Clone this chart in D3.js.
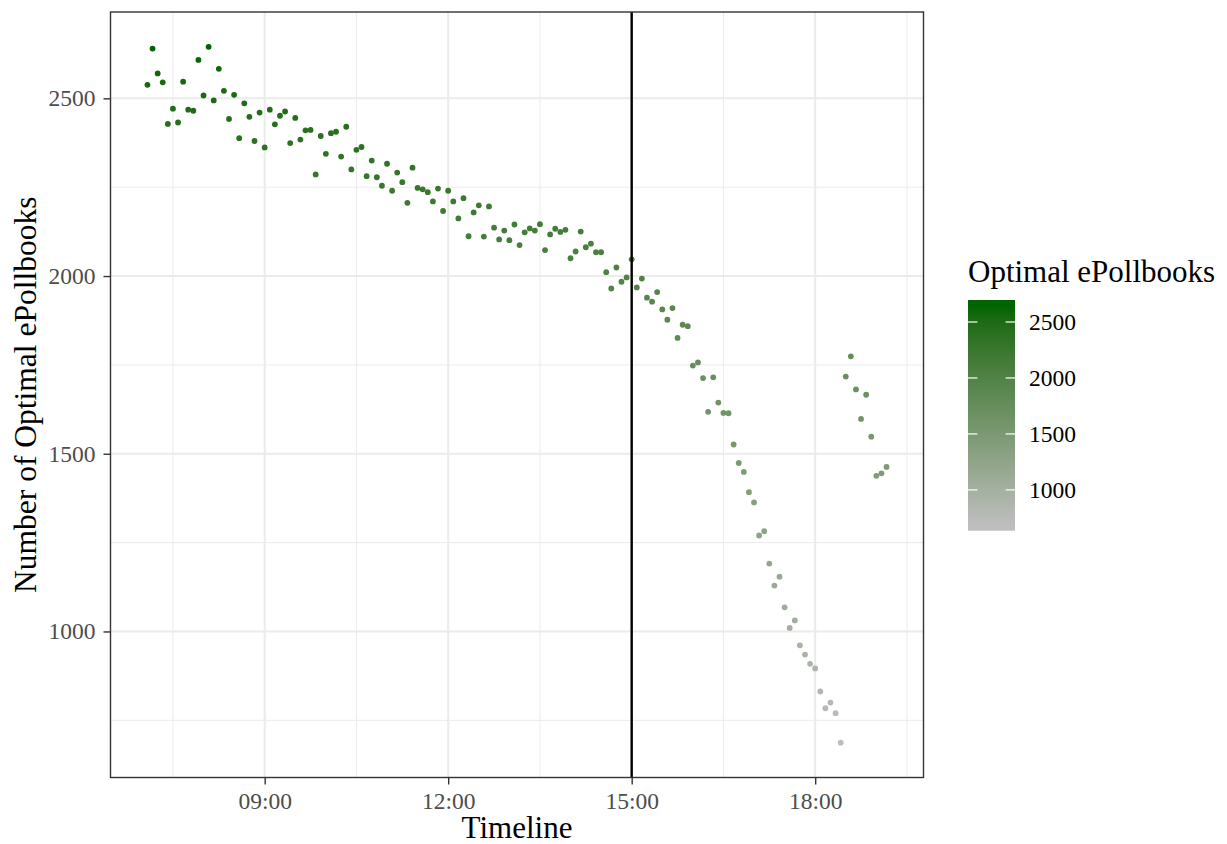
<!DOCTYPE html>
<html>
<head>
<meta charset="utf-8">
<script src="https://cdn.jsdelivr.net/npm/d3@7"></script>
<style>
  html, body { margin: 0; padding: 0; background: #ffffff; }
  svg { display: block; }
</style>
</head>
<body>
<svg id="chart" width="1227" height="844"></svg>
<script>
// ---------------- DATA ----------------
const times = [
  "07:05","07:10","07:15","07:20","07:25","07:30","07:35","07:40","07:45","07:50","07:55",
  "08:00","08:05","08:10","08:15","08:20","08:25","08:30","08:35","08:40","08:45","08:50","08:55",
  "09:00","09:05","09:10","09:15","09:20","09:25","09:30","09:35","09:40","09:45","09:50","09:55",
  "10:00","10:05","10:10","10:15","10:20","10:25","10:30","10:35","10:40","10:45","10:50","10:55",
  "11:00","11:05","11:10","11:15","11:20","11:25","11:30","11:35","11:40","11:45","11:50","11:55",
  "12:00","12:05","12:10","12:15","12:20","12:25","12:30","12:35","12:40","12:45","12:50","12:55",
  "13:00","13:05","13:10","13:15","13:20","13:25","13:30","13:35","13:40","13:45","13:50","13:55",
  "14:00","14:05","14:10","14:15","14:20","14:25","14:30","14:35","14:40","14:45","14:50","14:55",
  "15:00","15:05","15:10","15:15","15:20","15:25","15:30","15:35","15:40","15:45","15:50","15:55",
  "16:00","16:05","16:10","16:15","16:20","16:25","16:30","16:35","16:40","16:45","16:50","16:55",
  "17:00","17:05","17:10","17:15","17:20","17:25","17:30","17:35","17:40","17:45","17:50","17:55",
  "18:00","18:05","18:10","18:15","18:20","18:25","18:30","18:35","18:40","18:45","18:50","18:55",
  "19:00","19:05","19:10"
];
const optimal = [
  2538,2640,2570,2545,2428,2471,2432,2547,2468,2465,2608,
  2508,2645,2494,2583,2521,2442,2510,2388,2486,2448,2380,2460,
  2362,2468,2427,2451,2463,2374,2445,2384,2410,2411,2286,2394,
  2344,2402,2406,2336,2420,2300,2355,2363,2281,2325,2278,2254,
  2316,2240,2291,2264,2206,2305,2248,2244,2236,2210,2246,2183,
  2240,2210,2162,2219,2112,2179,2199,2111,2196,2136,2103,2128,
  2101,2145,2087,2123,2134,2128,2146,2073,2117,2133,2124,2130,
  2050,2069,2125,2081,2091,2067,2067,2011,1965,2024,1984,1996,
  2047,1968,1993,1939,1928,1955,1906,1877,1910,1826,1863,1859,
  1748,1757,1713,1618,1715,1644,1615,1614,1526,1474,1449,1392,
  1363,1270,1282,1191,1129,1154,1068,1010,1031,961,935,909,
  896,831,784,800,770,687,1717,1774,1681,1598,1666,1548,
  1438,1445,1463
];
const xMajorTicks = ["09:00","12:00","15:00","18:00"];
const xMinorTicks = ["07:30","10:30","13:30","16:30","19:30"];
const yMajorTicks = [1000,1500,2000,2500];
const yMinorTicks = [750,1250,1750,2250];
const legendTicks = [1000,1500,2000,2500];
const markerTime = "15:00";
const xTitle = "Timeline";
const yTitle = "Number of Optimal ePollbooks";
const legendTitle = "Optimal ePollbooks";

// ---------------- LAYOUT ----------------
const FONT = "'Liberation Serif', 'Times New Roman', serif";
const panel = { left: 110.5, right: 923.5, top: 12, bottom: 777.5 };
const parseT = d3.utcParse("%H:%M");
const data = times.map((t, i) => ({ t: parseT(t), v: optimal[i] }));

const svg = d3.select("#chart");

// scales with ggplot-like 5% expansion
const tExt = d3.extent(data, d => d.t);
const tSpan = tExt[1] - tExt[0];
const x = d3.scaleUtc()
  .domain([new Date(+tExt[0] - 0.05 * tSpan), new Date(+tExt[1] + 0.05 * tSpan)])
  .range([panel.left, panel.right]);
const vExt = d3.extent(data, d => d.v);
const vSpan = vExt[1] - vExt[0];
const y = d3.scaleLinear()
  .domain([vExt[0] - 0.05 * vSpan, vExt[1] + 0.05 * vSpan])
  .range([panel.bottom, panel.top]);

const colour = d3.scaleLinear()
  .domain(vExt)
  .range(["#BEBEBE", "#006400"])
  .interpolate(d3.interpolateLab);

// ---------------- PANEL ----------------
const g = svg.append("g");
g.append("rect")
  .attr("x", panel.left).attr("y", panel.top)
  .attr("width", panel.right - panel.left).attr("height", panel.bottom - panel.top)
  .attr("fill", "#ffffff");

// minor grid
g.selectAll("line.yminor").data(yMinorTicks).enter().append("line")
  .attr("x1", panel.left).attr("x2", panel.right)
  .attr("y1", d => y(d)).attr("y2", d => y(d))
  .attr("stroke", "#ebebeb").attr("stroke-width", 1);
g.selectAll("line.xminor").data(xMinorTicks).enter().append("line")
  .attr("x1", d => x(parseT(d))).attr("x2", d => x(parseT(d)))
  .attr("y1", panel.top).attr("y2", panel.bottom)
  .attr("stroke", "#ebebeb").attr("stroke-width", 1);
// major grid
g.selectAll("line.ymajor").data(yMajorTicks).enter().append("line")
  .attr("x1", panel.left).attr("x2", panel.right)
  .attr("y1", d => y(d)).attr("y2", d => y(d))
  .attr("stroke", "#ebebeb").attr("stroke-width", 2);
g.selectAll("line.xmajor").data(xMajorTicks).enter().append("line")
  .attr("x1", d => x(parseT(d))).attr("x2", d => x(parseT(d)))
  .attr("y1", panel.top).attr("y2", panel.bottom)
  .attr("stroke", "#ebebeb").attr("stroke-width", 2);

// points
g.selectAll("circle.pt").data(data).enter().append("circle")
  .attr("cx", d => x(d.t)).attr("cy", d => y(d.v)).attr("r", 2.9)
  .attr("fill", d => colour(d.v));

// vertical marker line
g.append("line")
  .attr("x1", x(parseT(markerTime))).attr("x2", x(parseT(markerTime)))
  .attr("y1", panel.top).attr("y2", panel.bottom)
  .attr("stroke", "#000000").attr("stroke-width", 2.4);

// border
g.append("rect")
  .attr("x", panel.left).attr("y", panel.top)
  .attr("width", panel.right - panel.left).attr("height", panel.bottom - panel.top)
  .attr("fill", "none").attr("stroke", "#333333").attr("stroke-width", 1.4);

// ---------------- AXES ----------------
const xAxis = d3.axisBottom(x)
  .tickValues(xMajorTicks.map(parseT))
  .tickFormat(d3.utcFormat("%H:%M"))
  .tickSize(7).tickPadding(8).tickSizeOuter(0);
const gx = svg.append("g").attr("transform", `translate(0,${panel.bottom})`).call(xAxis);
gx.select(".domain").remove();
gx.selectAll(".tick line").attr("stroke", "#333333").attr("stroke-width", 1.4);
gx.selectAll(".tick text").attr("fill", "#4d4d4d")
  .attr("font-family", FONT).attr("font-size", 23.5);

const yAxis = d3.axisLeft(y)
  .tickValues(yMajorTicks)
  .tickFormat(d3.format("d"))
  .tickSize(7).tickPadding(8).tickSizeOuter(0);
const gy = svg.append("g").attr("transform", `translate(${panel.left},0)`).call(yAxis);
gy.select(".domain").remove();
gy.selectAll(".tick line").attr("stroke", "#333333").attr("stroke-width", 1.4);
gy.selectAll(".tick text").attr("fill", "#4d4d4d")
  .attr("font-family", FONT).attr("font-size", 23.5);

// axis titles
svg.append("text")
  .attr("x", (panel.left + panel.right) / 2).attr("y", 838)
  .attr("text-anchor", "middle")
  .attr("font-family", FONT).attr("font-size", 31).attr("fill", "#000000")
  .text(xTitle);
svg.append("text")
  .attr("transform", `translate(36,${(panel.top + panel.bottom) / 2}) rotate(-90)`)
  .attr("text-anchor", "middle")
  .attr("font-family", FONT).attr("font-size", 31.5).attr("fill", "#000000")
  .text(yTitle);

// ---------------- LEGEND ----------------
const bar = { x: 968, y: 300, w: 47, h: 230.7 };
const half = 0.025 * bar.h;
const ly = d3.scaleLinear().domain(vExt).range([bar.y + bar.h - half, bar.y + half]);

const defs = svg.append("defs");
const grad = defs.append("linearGradient").attr("id", "cbar")
  .attr("x1", 0).attr("y1", 0).attr("x2", 0).attr("y2", 1);
const stopVals = d3.range(0, 21).map(i => vExt[1] - i * (vSpan / 20));
grad.append("stop").attr("offset", 0).attr("stop-color", colour(vExt[1]));
stopVals.forEach(v => {
  grad.append("stop")
    .attr("offset", (ly(v) - bar.y) / bar.h)
    .attr("stop-color", colour(v));
});
grad.append("stop").attr("offset", 1).attr("stop-color", colour(vExt[0]));

svg.append("text")
  .attr("x", 968).attr("y", 282)
  .attr("font-family", FONT).attr("font-size", 31).attr("fill", "#000000")
  .text(legendTitle);

svg.append("rect")
  .attr("x", bar.x).attr("y", bar.y).attr("width", bar.w).attr("height", bar.h)
  .attr("fill", "url(#cbar)");

const lt = svg.append("g");
legendTicks.forEach(v => {
  lt.append("line").attr("x1", bar.x).attr("x2", bar.x + bar.w / 5)
    .attr("y1", ly(v)).attr("y2", ly(v)).attr("stroke", "#ffffff").attr("stroke-width", 1.2);
  lt.append("line").attr("x1", bar.x + bar.w - bar.w / 5).attr("x2", bar.x + bar.w)
    .attr("y1", ly(v)).attr("y2", ly(v)).attr("stroke", "#ffffff").attr("stroke-width", 1.2);
  lt.append("text")
    .attr("x", 1029).attr("y", ly(v)).attr("dy", "0.34em")
    .attr("font-family", FONT).attr("font-size", 23.5).attr("fill", "#000000")
    .text(d3.format("d")(v));
});
</script>
</body>
</html>
